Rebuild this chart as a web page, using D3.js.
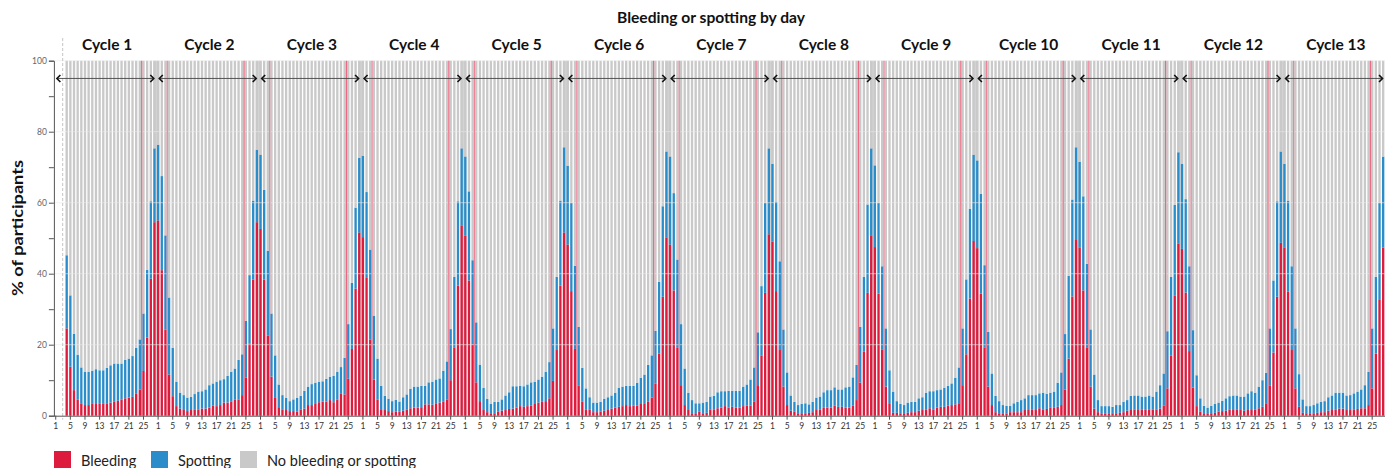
<!DOCTYPE html>
<html><head><meta charset="utf-8">
<script src="https://cdn.jsdelivr.net/npm/d3@7"></script>
<style>
body{margin:0;background:#fff;}
svg{display:block;}
text{font-family:Lato,"Open Sans",sans-serif;}
</style>
</head><body>
<svg id="chart" width="1394" height="468"></svg>
<script>
const title = "Bleeding or spotting by day";
const yTitle = "% of participants";
const cycleLabels = ["Cycle 1","Cycle 2","Cycle 3","Cycle 4","Cycle 5","Cycle 6","Cycle 7","Cycle 8","Cycle 9","Cycle 10","Cycle 11","Cycle 12","Cycle 13"];
const dayTickLabels = [1,5,9,13,17,21,25];
const yTickValues = [0,10,20,30,40,50,60,70,80,90,100];
const yLabelValues = [0,20,40,60,80,100];
const legendLabels = ["Bleeding","Spotting","No bleeding or spotting"];
const daysPerCycle = 28;

// % of participants with bleeding, per cycle day
const bleeding = [
 [null,null,null,24.6,13.8,7.2,4.6,3.5,3.0,3.0,3.5,3.3,3.5,3.5,3.5,3.7,3.9,4.2,4.6,4.9,5.1,5.3,6.3,7.4,12.6,22.0,38.6,54.5],
 [55.0,41.0,24.3,11.6,5.5,2.7,2.0,1.6,1.3,1.6,1.8,1.8,2.0,2.0,2.3,2.8,2.7,3.0,3.7,3.7,3.9,4.6,4.6,5.8,10.8,20.3,38.3,54.5],
 [52.6,38.3,22.5,11.0,5.0,2.4,1.8,1.6,1.3,1.3,1.2,1.8,2.0,3.0,3.0,3.3,3.8,4.0,4.0,4.4,3.8,4.6,6.3,6.0,10.4,18.8,35.8,51.6],
 [50.3,38.8,21.5,10.2,4.6,1.6,1.6,1.3,1.0,1.1,1.1,1.4,1.8,2.1,2.3,2.3,2.4,3.2,3.2,3.1,3.5,3.7,3.9,4.6,10.0,19.1,36.7,53.6],
 [50.7,38.1,20.1,9.4,4.1,1.6,1.0,0.7,0.7,1.1,1.4,1.6,1.9,2.0,2.3,2.7,2.5,2.7,2.8,3.3,3.7,3.9,4.1,4.9,9.8,18.5,36.6,51.6],
 [48.2,35.1,18.8,8.4,3.9,1.8,1.8,1.0,1.0,1.1,1.4,1.6,2.0,2.3,2.5,2.7,3.0,2.7,2.9,2.8,3.3,3.3,3.9,5.1,9.1,17.5,33.5,50.1],
 [48.2,35.3,19.1,8.6,3.0,1.6,0.7,0.7,1.1,0.7,0.8,1.8,1.8,2.1,2.3,2.7,2.3,2.5,2.3,2.3,2.7,2.9,2.9,3.9,8.6,17.0,34.6,51.1],
 [49.0,35.1,18.5,8.2,3.0,1.4,1.1,0.7,0.7,0.7,0.8,1.0,1.6,1.8,2.2,2.3,2.3,2.8,2.5,2.5,2.3,2.3,2.8,4.4,9.3,18.0,34.6,50.8],
 [47.5,34.4,18.7,8.2,3.3,0.8,0.8,0.7,0.7,0.8,1.0,1.0,1.4,1.6,1.8,2.1,1.8,2.3,2.5,2.5,2.8,3.0,3.2,3.3,8.6,17.3,33.0,49.2],
 [47.2,34.4,19.1,8.2,3.0,1.0,0.7,0.5,0.5,1.0,1.0,1.0,1.0,1.6,1.6,1.8,1.6,2.1,1.8,1.9,2.2,2.2,2.5,3.0,7.4,16.1,33.6,49.7],
 [47.4,35.3,19.1,8.2,2.0,1.0,0.5,0.5,0.5,0.7,0.7,0.8,1.0,1.4,1.6,1.8,1.6,1.8,1.8,1.8,1.8,1.8,2.0,2.9,7.7,16.9,33.9,48.5],
 [47.0,34.7,18.2,7.9,2.7,1.1,0.7,0.7,0.7,0.8,1.1,1.3,1.4,1.8,1.6,1.8,1.6,1.4,1.6,1.6,1.8,2.1,2.5,3.5,8.4,17.8,33.5,48.7],
 [47.4,34.9,18.5,7.7,2.5,0.8,0.7,0.7,0.7,0.8,1.0,1.0,1.4,1.6,1.8,2.0,2.0,1.6,1.6,1.8,1.9,2.1,2.1,3.0,7.7,17.5,32.6,47.4]
];
// % of participants with spotting only, per cycle day
const spotting = [
 [null,null,null,20.6,20.1,15.9,12.6,10.1,9.4,9.4,9.2,9.8,9.3,9.3,10.0,10.5,10.8,10.5,10.1,10.8,11.0,11.5,12.8,14.1,16.2,19.1,21.8,20.8],
 [21.3,26.5,26.5,21.7,13.6,6.9,4.5,4.2,3.8,3.7,4.3,5.0,4.9,5.4,6.3,6.3,6.9,7.0,6.6,7.5,8.5,8.7,11.1,11.5,15.9,19.3,22.3,20.4],
 [20.9,25.3,24.0,17.8,12.0,6.4,4.0,3.4,2.8,3.3,3.8,3.8,5.0,5.2,5.9,6.0,5.8,5.7,6.4,6.6,7.4,7.8,7.4,10.3,15.4,18.6,22.8,21.0],
 [22.9,24.2,25.3,18.0,11.5,6.8,4.0,3.5,3.1,3.4,2.9,3.8,4.2,5.5,5.9,5.9,6.0,5.2,6.2,6.5,6.7,6.8,8.8,10.7,14.4,20.0,23.7,21.7],
 [22.3,25.1,23.7,16.9,10.3,6.2,3.7,2.6,3.2,2.8,3.2,4.1,4.7,6.3,6.0,5.7,5.8,6.1,6.6,6.3,6.5,7.1,8.3,10.2,14.8,20.6,24.0,24.0],
 [22.2,24.8,23.4,16.6,9.6,5.9,3.4,2.7,2.7,2.8,3.4,3.6,3.7,4.2,5.4,5.5,5.4,5.7,5.5,6.5,7.4,8.3,10.4,11.9,14.8,20.2,25.5,24.3],
 [24.8,27.4,24.9,17.2,10.3,4.9,3.7,2.8,2.4,3.0,3.1,3.6,3.8,4.5,4.6,4.2,4.7,4.5,4.7,4.7,5.5,5.9,7.3,9.7,14.9,19.5,25.3,24.2],
 [21.9,25.1,25.0,16.1,9.2,4.3,2.8,2.3,2.6,2.8,2.4,2.9,3.5,3.6,4.4,4.9,4.9,5.2,4.9,4.9,5.7,5.9,8.0,9.9,15.7,21.1,24.9,24.5],
 [23.0,25.5,23.4,16.4,9.5,6.0,3.3,2.6,2.3,2.9,2.9,2.9,3.5,3.6,4.7,4.8,5.1,4.9,4.9,5.4,5.6,6.1,7.5,10.3,16.0,21.1,25.3,24.3],
 [24.7,28.1,23.3,15.4,8.9,4.6,3.4,2.5,2.3,1.8,2.5,2.9,3.4,3.3,4.2,4.0,4.2,4.2,4.7,4.3,4.3,4.6,6.8,9.2,15.6,23.3,27.3,25.9],
 [24.1,26.5,23.7,16.1,9.6,3.4,2.2,2.2,2.2,1.8,2.3,2.2,2.9,3.0,4.0,3.9,4.1,3.6,3.6,3.9,3.6,5.0,6.6,9.0,16.1,22.2,25.5,25.7],
 [23.9,26.3,23.9,16.2,8.7,3.8,2.1,1.6,2.1,2.5,2.6,2.9,3.5,3.7,4.1,3.9,3.8,4.0,4.7,5.3,4.7,6.1,7.5,8.6,16.2,20.3,26.9,25.7],
 [23.5,25.7,23.6,16.9,9.2,3.8,2.0,2.0,2.3,2.7,2.9,3.1,3.8,4.1,4.7,4.5,4.5,4.1,4.2,4.5,4.9,5.3,6.5,9.4,16.9,21.6,27.3,25.6]
];

const colors = {b:"#dc1b3d", s:"#2a8dca", n:"#c9c9c9"};

const svg = d3.select("#chart");
const W = 1394, H = 468;
const margin = {left:53.9, right:9, top:60.7, bottom:52.3};
const x0 = margin.left, x1 = W - margin.right;
const yTop = margin.top, yBot = H - margin.bottom;

const nCycles = cycleLabels.length;
const nDays = nCycles * daysPerCycle;

const x = d3.scaleBand().domain(d3.range(nDays)).range([x0, x1]).paddingInner(0.36).paddingOuter(0.18);
const step = x.step();
const edge = i => x0 + i * step;          // left boundary of day index i
const y = d3.scaleLinear().domain([0,100]).range([yBot, yTop]);

// rows
const rows = [];
for (let c = 0; c < nCycles; c++) {
  for (let d = 0; d < daysPerCycle; d++) {
    const b = bleeding[c][d], s = spotting[c][d];
    if (b == null) continue;
    rows.push({i: c*daysPerCycle + d, b: b, s: s, n: Math.max(0, 100 - b - s)});
  }
}
const stack = d3.stack().keys(["b","s","n"]);
const series = stack(rows);

// darker band between day 28 and day 1
const bandG = svg.append("g");
for (let k = 1; k < nCycles; k++) {
  const iA = k*daysPerCycle - 1, iB = k*daysPerCycle;
  bandG.append("rect")
    .attr("x", x(iA)).attr("width", x(iB) + x.bandwidth() - x(iA))
    .attr("y", y(100)).attr("height", y(0) - y(100))
    .attr("fill", "#d2d2d2");
}

// bars
svg.append("g").selectAll("g").data(series).join("g")
  .attr("fill", d => colors[d.key])
  .selectAll("rect").data(d => d).join("rect")
  .attr("x", d => x(d.data.i))
  .attr("width", x.bandwidth())
  .attr("y", d => y(d[1]))
  .attr("height", d => Math.max(0, y(d[0]) - y(d[1])));

// gridlines (on top, faint)
svg.append("g").selectAll("line").data(yLabelValues.filter(v => v > 0)).join("line")
  .attr("x1", x0).attr("x2", x1)
  .attr("y1", d => y(d)).attr("y2", d => y(d))
  .attr("stroke", "#ececec").attr("stroke-width", 1.2).attr("opacity", 0.45);

// red interval lines
const redG = svg.append("g");
for (let c = 0; c < nCycles; c++) {
  const a = c*daysPerCycle + 24;
  redG.append("line").attr("x1", edge(a)).attr("x2", edge(a))
    .attr("y1", y(100)).attr("y2", y(0))
    .attr("stroke", "#ec4d6c").attr("stroke-width", 1.2).attr("opacity", 0.85);
  if (c < nCycles - 1) {
    const b = (c+1)*daysPerCycle + 3;
    redG.append("line").attr("x1", edge(b)).attr("x2", edge(b))
      .attr("y1", y(100)).attr("y2", y(0))
      .attr("stroke", "#ec4d6c").attr("stroke-width", 1.2).attr("opacity", 0.7);
  }
}

// dashed line at start
svg.append("line")
  .attr("x1", edge(2.4)).attr("x2", edge(2.4))
  .attr("y1", 38).attr("y2", yBot + 4)
  .attr("stroke", "#c4c4c4").attr("stroke-width", 1).attr("stroke-dasharray", "3,2");

// y axis
const yAxis = d3.axisLeft(y).tickValues(yTickValues).tickSize(5)
  .tickFormat(d => yLabelValues.includes(d) ? d : "");
const gy = svg.append("g").attr("transform", `translate(${x0},0)`).call(yAxis);
gy.select(".domain").attr("stroke", "#555").attr("stroke-width", 1);
gy.selectAll(".tick line").attr("stroke", "#555");
gy.selectAll(".tick text").attr("fill", "#666").attr("font-size", 8.5).attr("x", -7)
  .style("font-family", "Lato, sans-serif");

// x axis
const xTickIdx = [];
for (let c = 0; c < nCycles; c++) dayTickLabels.forEach(d => xTickIdx.push(c*daysPerCycle + d - 1));
const xAxis = d3.axisBottom(x).tickValues(xTickIdx).tickSize(4)
  .tickFormat(i => (i % daysPerCycle) + 1);
const gx = svg.append("g").attr("transform", `translate(0,${yBot})`).call(xAxis);
gx.select(".domain").attr("stroke", "#555").attr("d", `M${x0},0.5H${x1}`);
gx.selectAll(".tick line").attr("stroke", "#555");
gx.selectAll(".tick text").attr("fill", "#333").attr("font-size", 8.5).attr("y", 7)
  .style("font-family", "Lato, sans-serif");

// arrows per cycle
const arrowY = y(95);
const arrG = svg.append("g");
for (let c = 0; c < nCycles; c++) {
  const xa = edge(c*daysPerCycle) + 3;
  const xb = edge((c+1)*daysPerCycle) - 2.5;
  arrG.append("line").attr("x1", xa).attr("x2", xb).attr("y1", arrowY).attr("y2", arrowY)
    .attr("stroke", "#444").attr("stroke-width", 0.9);
  arrG.append("path").attr("d", `M${xa+3.5},${arrowY-3.5}L${xa},${arrowY}L${xa+3.5},${arrowY+3.5}`)
    .attr("fill", "none").attr("stroke", "#111").attr("stroke-width", 1.6);
  arrG.append("path").attr("d", `M${xb-3.5},${arrowY-3.5}L${xb},${arrowY}L${xb-3.5},${arrowY+3.5}`)
    .attr("fill", "none").attr("stroke", "#111").attr("stroke-width", 1.6);
}

// cycle labels
svg.append("g").selectAll("text").data(cycleLabels).join("text")
  .attr("x", (d, c) => (edge(c*daysPerCycle) + edge((c+1)*daysPerCycle)) / 2 + 2)
  .attr("y", 50)
  .attr("text-anchor", "middle")
  .attr("font-size", 15.5).attr("font-weight", 700).attr("fill", "#111")
  .text(d => d);

// title
svg.append("text").attr("x", 711).attr("y", 23).attr("text-anchor", "middle")
  .attr("font-size", 15.5).attr("font-weight", 700).attr("fill", "#111")
  .attr("textLength", 188).attr("lengthAdjust", "spacingAndGlyphs").text(title);

// y title
svg.append("text").attr("transform", `translate(23,228) rotate(-90)`)
  .attr("text-anchor", "middle").attr("font-size", 16).attr("font-weight", 700)
  .attr("fill", "#111").attr("textLength", 136).attr("lengthAdjust", "spacingAndGlyphs").text(yTitle);

// legend
const legX = [54, 151, 240];
const legG = svg.append("g").selectAll("g").data(legendLabels).join("g")
  .attr("transform", (d, i) => `translate(${legX[i]},451)`);
legG.append("rect").attr("width", 17).attr("height", 17)
  .attr("fill", (d, i) => [colors.b, colors.s, colors.n][i]);
legG.append("text").attr("x", 27).attr("y", 15).attr("font-size", 14.5).attr("fill", "#222")
  .text(d => d);
</script>
</body></html>
